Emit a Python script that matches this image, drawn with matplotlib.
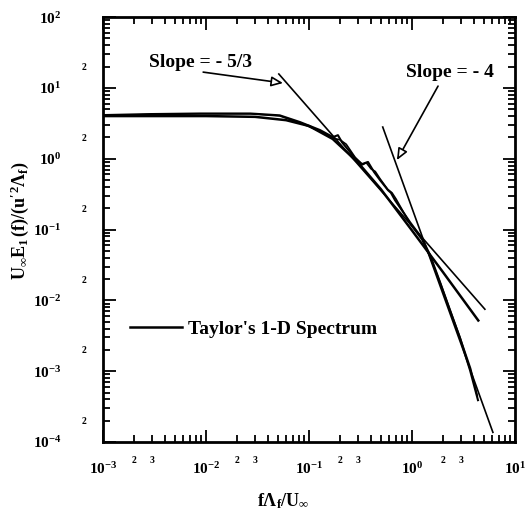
import numpy as np
import matplotlib
matplotlib.use("Agg")
import matplotlib.pyplot as plt
from matplotlib.ticker import LogLocator, FuncFormatter

# ── Data ────────────────────────────────────────────────────────────────────

# Taylor's 1-D spectrum (smooth model curve)
TAYLOR_F = [0.001, 0.003, 0.01, 0.03, 0.06, 0.1, 0.17, 0.3, 0.5, 1.0, 2.0, 4.4]
TAYLOR_E = [4.0, 4.0, 4.0, 3.9, 3.5, 2.9, 1.9, 0.88, 0.37, 0.097, 0.025, 0.0052]

# measured spectrum A
DATA_A_F = [0.001, 0.0029, 0.0088, 0.027, 0.052, 0.082, 0.128, 0.171, 0.191,
            0.209, 0.280, 0.327, 0.374, 0.428, 0.489, 0.585, 0.625, 0.684,
            0.957, 1.25, 1.50, 1.87, 2.34, 2.93, 3.66, 4.37]
DATA_A_E = [4.13, 4.27, 4.35, 4.35, 4.10, 3.29, 2.54, 2.02, 2.15,
            1.71, 1.02, 0.84, 0.90, 0.65, 0.50, 0.36, 0.33, 0.26,
            0.127, 0.0756, 0.0435, 0.0181, 0.00727, 0.00292, 0.00103, 0.00039]

# measured spectrum B
DATA_B_F = [0.001, 0.003, 0.009, 0.027, 0.052, 0.082, 0.128, 0.17, 0.20,
            0.23, 0.28, 0.33, 0.36, 0.40, 0.44, 0.49, 0.58, 0.64, 0.70,
            0.96, 1.25, 1.5, 1.9, 2.3, 2.9, 3.7, 4.3]
DATA_B_E = [4.08, 4.2, 4.3, 4.3, 4.02, 3.2, 2.45, 1.95, 1.85,
            1.6, 1.05, 0.82, 0.88, 0.72, 0.66, 0.52, 0.37, 0.33, 0.27,
            0.12, 0.072, 0.041, 0.017, 0.0078, 0.0031, 0.0011, 0.00045]

# reference slope lines (end points)
SLOPE53_F = [0.051, 5.1]
SLOPE53_E = [15.7, 0.0075]
SLOPE4_F = [0.52, 6.1]
SLOPE4_E = [2.8, 0.000137]

X_RANGE = (1e-3, 1e1)
Y_RANGE = (1e-4, 1e2)

# ── Style ────────────────────────────────────────────────────────────────────

plt.rcParams["font.family"] = "Liberation Serif"
plt.rcParams["font.weight"] = "bold"
plt.rcParams["mathtext.fontset"] = "custom"
plt.rcParams["mathtext.rm"] = "Liberation Serif:bold"
plt.rcParams["mathtext.it"] = "Liberation Serif:italic:bold"
plt.rcParams["mathtext.bf"] = "Liberation Serif:bold"

fig = plt.figure(figsize=(5.25, 5.17), dpi=100, facecolor="white")
ax = fig.add_axes([0.196, 0.145, 0.785, 0.822])

ax.plot(TAYLOR_F, TAYLOR_E, color="black", linewidth=1.8, label="Taylor's 1-D Spectrum")
ax.plot(DATA_A_F, DATA_A_E, color="black", linewidth=1.5)
ax.plot(DATA_B_F, DATA_B_E, color="black", linewidth=1.2)
ax.plot(SLOPE53_F, SLOPE53_E, color="black", linewidth=1.2)
ax.plot(SLOPE4_F, SLOPE4_E, color="black", linewidth=1.2)

ax.set_xscale("log")
ax.set_yscale("log")
ax.set_xlim(*X_RANGE)
ax.set_ylim(*Y_RANGE)

# ── Ticks ────────────────────────────────────────────────────────────────────

def make_major_fmt(lo, hi):
    def fmt(v, pos):
        if v < lo * 0.999 or v > hi * 1.001:
            return ""
        return r"$\mathbf{10^{%d}}$" % int(round(np.log10(v)))
    return fmt

def minor_digit(v):
    m = v / 10 ** np.floor(np.log10(v) + 1e-9)
    return int(round(m))

def minor_fmt_x(v, pos):
    d = minor_digit(v)
    return str(d) if d in (2, 3) and X_RANGE[0] < v < X_RANGE[1] else ""

def minor_fmt_y(v, pos):
    d = minor_digit(v)
    return str(d) if d == 2 and Y_RANGE[0] < v < Y_RANGE[1] else ""

for axis, rng in ((ax.xaxis, X_RANGE), (ax.yaxis, Y_RANGE)):
    axis.set_major_locator(LogLocator(base=10, numticks=20))
    axis.set_minor_locator(LogLocator(base=10, subs=np.arange(2, 10), numticks=20))
    axis.set_major_formatter(FuncFormatter(make_major_fmt(*rng)))

ax.xaxis.set_minor_formatter(FuncFormatter(minor_fmt_x))
ax.yaxis.set_minor_formatter(FuncFormatter(minor_fmt_y))

ax.tick_params(which="both", direction="in", top=True, right=True, width=1.3)
ax.tick_params(which="major", length=9, labelsize=11)
ax.tick_params(which="minor", length=5, labelsize=7)
ax.tick_params(axis="x", which="major", pad=14)
ax.tick_params(axis="x", which="minor", pad=10)
ax.tick_params(axis="y", which="major", pad=30)
ax.tick_params(axis="y", which="minor", pad=12)

for spine in ax.spines.values():
    spine.set_linewidth(2)

ax.set_xlabel(r"$\mathbf{f\Lambda_f/U_\infty}$", fontsize=13)
ax.xaxis.set_label_coords(0.437, -0.115)
ax.set_ylabel(r"$\mathbf{U_\infty E_1\,(f)/(u'^2\Lambda_f)}$", fontsize=13)
ax.yaxis.set_label_coords(-0.175, 0.52)

# ── Annotations ──────────────────────────────────────────────────────────────

arrow = dict(arrowstyle="-|>,head_length=0.7,head_width=0.3",
             ec="black", fc="white", lw=1.2, shrinkA=0, shrinkB=0)
ax.annotate("", xy=(0.056, 11.7), xytext=(0.0094, 16.7), arrowprops=arrow)
ax.text(0.0089, 23.1, "Slope = - 5/3", fontsize=14, ha="center", va="center")
ax.annotate("", xy=(0.714, 0.955), xytext=(1.79, 10.6), arrowprops=arrow)
ax.text(2.34, 16.7, "Slope = - 4", fontsize=14, ha="center", va="center")

ax.legend(loc="center left", bbox_to_anchor=(0.065, 0.266), frameon=False,
          fontsize=14, handlelength=2.7, handletextpad=0.3, borderpad=0,
          borderaxespad=0)

fig.savefig("out.png", dpi=100)
